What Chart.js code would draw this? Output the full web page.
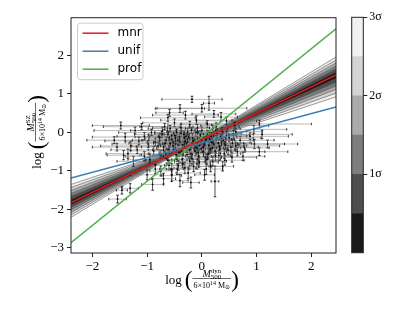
<!DOCTYPE html>
<html>
<head>
<meta charset="utf-8">
<script src="https://cdn.jsdelivr.net/npm/chart.js@4.4.0/dist/chart.umd.min.js"></script>
<style>
  body { margin: 0; background: #fff; }
  #wrap { position: relative; width: 415px; height: 311px; }
  #main { position: absolute; left: 0; top: 0; }
  #cbar { position: absolute; left: 345px; top: 0; }
</style>
</head>
<body>
<div id="wrap">
  <canvas id="main" width="345" height="311"></canvas>
  <canvas id="cbar" width="70" height="311"></canvas>
</div>
<script>
// limites et graduations des axes
const xLimits = [-2.39, 2.45];
const yLimits = [-3.13, 2.98];
const xTicks = [-2, -1, 0, 1, 2];
const yTicks = [-3, -2, -1, 0, 1, 2];

// relations ajustées (pente, ordonnée à l'origine)
const fitNames = ['mnr', 'unif', 'prof'];
const fitColors = ['#e41a1c', '#377eb8', '#4daf4a'];
const fitSlopes = [0.685, 0.381, 1.147];
const fitIntercepts = [-0.183, -0.27, -0.12];

// éventail des tirages (niveaux 0.5σ ... 3σ)
const fanPivot = [-0.2, -0.32];
const fanSlopeLow = [0.649, 0.613, 0.577, 0.542, 0.506, 0.470];
const fanSlopeHigh = [0.714, 0.743, 0.773, 0.802, 0.831, 0.860];
const sigmaColors = ['#1a1a1a', '#4e4e4e', '#7d7d7d', '#ababab', '#d4d4d4', '#f1f1f1'];
const sigmaTicks = [1, 2, 3];
const sigmaStep = 0.5;

// amas : log M_dyn, log M_SZ et leurs erreurs
const logMdyn = [
  -0.62,-0.55,-0.48,-0.41,-0.36,-0.30,-0.26,-0.21,-0.17,-0.12,
  -0.08,-0.03,0.02,0.07,0.12,0.17,0.22,0.28,0.33,0.39,
  0.45,-0.70,-0.77,-0.66,-0.58,-0.45,-0.38,-0.33,-0.27,-0.19,
  -0.14,-0.06,0.00,0.05,0.10,0.15,0.20,0.26,0.31,0.37,
  0.43,0.50,0.56,0.62,-0.52,-0.44,-0.35,-0.24,-0.10,0.03,
  0.18,0.34,0.48,-0.85,-0.92,-0.88,-0.98,-1.05,-0.72,-1.15,
  -1.22,-1.30,-1.40,-1.48,-1.10,-1.35,-1.55,-1.60,-1.05,-1.18,
  -1.25,-0.95,-1.43,-0.18,0.13,0.00,-0.59,-0.40,-0.62,-0.30,
  0.22,0.45,-0.10,0.10,-0.50,0.60,0.35,-0.22,1.05,0.95,
  1.10,0.70,0.78,0.88,0.96,1.05,0.65,0.55,0.75,1.20,
  0.42,0.62,-0.60,-0.45,-0.35,-0.25,-0.15,-0.05,0.08,0.20,
  -0.75,-0.55,-0.40,-0.70,-0.85,-1.00,-0.90,0.24,-1.31,-1.54,
  -1.46,0.38,0.05,-0.20,-0.62,-0.58,-0.50,-0.42,-0.32,-0.28,
  -0.16,-0.11,-0.04,0.09,0.13,0.24,0.30,0.41,0.53,-0.65,
  -0.75,-0.80,-0.68,-0.36,-0.20,0.00,-0.46,0.26,-0.08,0.58,
  -0.52,-0.47,-0.40,-0.34,-0.29,-0.23,-0.18,-0.13,-0.07,-0.01,
  0.04,0.09,0.14,0.19,0.25,0.32,0.36,-0.60,-0.67,-0.73,
  -0.55,-0.43,-0.31,-0.22,-0.09,0.06,0.16,-0.48,-0.38,-0.26
];
const logMsz = [
  -0.05,-0.18,-0.30,-0.12,-0.42,-0.22,0.02,-0.35,-0.15,-0.48,
  -0.27,-0.06,-0.38,-0.19,-0.55,-0.10,-0.31,-0.02,-0.44,-0.21,
  -0.08,-0.38,-0.12,-0.55,0.10,-0.62,0.12,-0.05,-0.58,0.06,
  -0.30,-0.62,0.05,-0.25,-0.02,-0.42,0.10,-0.18,-0.60,0.03,
  -0.34,-0.14,-0.28,0.02,-0.45,-0.20,-0.32,-0.12,-0.40,-0.50,
  -0.26,-0.12,-0.46,-0.25,0.00,-0.48,-0.30,-0.10,0.05,-0.22,
  0.05,-0.35,-0.12,0.18,0.15,-0.55,-0.38,-0.20,-0.62,-0.45,
  -0.75,-0.70,-0.59,0.86,0.76,0.63,0.51,0.62,0.38,0.45,
  0.48,0.30,0.32,0.22,0.25,0.18,0.40,0.20,0.22,0.08,
  -0.05,-0.20,-0.40,-0.10,-0.30,-0.50,-0.50,-0.65,-0.62,-0.30,
  -0.72,-0.35,-0.85,-0.95,-0.80,-1.05,-0.88,-0.78,-0.95,-0.75,
  -1.00,-1.12,-1.25,-1.20,-0.95,-1.10,-1.35,-1.27,-1.45,-1.73,
  -1.50,-0.88,-1.10,-1.30,-0.72,-0.28,-0.08,-0.52,-0.15,-0.40,
  -0.22,0.00,-0.33,-0.12,-0.33,-0.48,-0.28,-0.55,-0.38,-0.20,
  -0.58,-0.35,0.15,-0.70,-0.55,-0.20,0.00,0.15,0.12,-0.05,
  -0.35,-0.58,-0.25,-0.50,-0.10,-0.45,-0.68,-0.30,-0.52,-0.42,
  -0.30,-0.70,-0.18,-0.40,-0.62,-0.36,-0.15,-0.45,-0.28,-0.05,
  -0.95,-0.85,-0.92,-0.75,-0.82,-0.65,-0.88,-0.15,-0.02,-0.25
];
const errMdyn = [
  0.35,0.42,0.30,0.55,0.28,0.47,0.38,0.33,0.60,0.25,
  0.44,0.52,0.31,0.48,0.22,0.65,0.40,0.36,0.27,0.55,
  0.42,0.50,0.45,0.32,0.40,0.26,0.52,0.36,0.30,0.44,
  0.58,0.24,0.46,0.37,0.62,0.29,0.50,0.33,0.21,0.45,
  0.39,0.58,0.35,0.48,0.38,0.64,0.41,0.35,0.50,0.42,
  0.70,0.30,0.32,0.55,0.60,0.42,0.66,0.50,0.58,0.62,
  0.75,0.55,0.60,0.52,0.70,0.40,0.45,0.50,0.35,0.48,
  0.30,0.40,0.30,0.55,0.10,0.82,0.25,0.45,0.50,0.60,
  0.40,0.55,0.65,0.48,0.58,0.62,0.30,0.40,0.95,0.60,
  0.55,0.62,0.45,0.70,0.55,0.52,0.50,0.45,0.40,0.55,
  0.35,0.80,0.25,0.20,0.30,0.22,0.28,0.35,0.30,0.25,
  0.20,0.18,0.15,0.22,0.28,0.30,0.20,0.07,0.15,0.16,
  0.10,0.20,0.18,0.15,0.40,0.30,0.48,0.36,0.28,0.55,
  0.32,0.50,0.40,0.34,0.55,0.38,0.46,0.30,0.50,0.62,
  0.35,0.48,0.45,0.28,0.35,0.60,0.40,0.42,0.55,0.36,
  0.45,0.30,0.60,0.35,0.50,0.40,0.28,0.55,0.33,0.48,
  0.62,0.25,0.40,0.52,0.30,0.44,0.58,0.38,0.66,0.50,
  0.22,0.25,0.20,0.28,0.24,0.30,0.22,0.56,0.48,0.62
];
const errMsz = [
  0.08,0.10,0.09,0.11,0.12,0.08,0.09,0.10,0.12,0.13,
  0.09,0.10,0.11,0.08,0.14,0.10,0.09,0.12,0.10,0.09,
  0.11,0.10,0.09,0.12,0.08,0.13,0.10,0.09,0.14,0.08,
  0.10,0.15,0.09,0.10,0.08,0.12,0.09,0.10,0.13,0.10,
  0.11,0.09,0.10,0.09,0.11,0.09,0.10,0.08,0.12,0.13,
  0.10,0.08,0.12,0.10,0.08,0.11,0.09,0.10,0.09,0.10,
  0.09,0.12,0.10,0.09,0.08,0.12,0.10,0.09,0.12,0.10,
  0.13,0.12,0.12,0.08,0.18,0.10,0.09,0.10,0.09,0.10,
  0.09,0.10,0.11,0.09,0.10,0.09,0.12,0.09,0.10,0.10,
  0.11,0.10,0.11,0.09,0.12,0.10,0.11,0.12,0.11,0.10,
  0.13,0.10,0.12,0.14,0.12,0.15,0.13,0.12,0.14,0.12,
  0.13,0.15,0.16,0.14,0.12,0.13,0.15,0.40,0.12,0.10,
  0.10,0.12,0.14,0.14,0.11,0.10,0.09,0.11,0.10,0.12,
  0.09,0.10,0.11,0.09,0.10,0.12,0.10,0.12,0.10,0.09,
  0.12,0.10,0.08,0.12,0.12,0.10,0.09,0.10,0.09,0.10,
  0.10,0.12,0.09,0.11,0.08,0.12,0.13,0.10,0.11,0.10,
  0.09,0.14,0.08,0.11,0.12,0.10,0.09,0.11,0.09,0.08,
  0.14,0.13,0.15,0.12,0.13,0.12,0.14,0.09,0.08,0.10
];

const serif = "'Liberation Serif', 'DejaVu Serif', serif";
const sans = "'DejaVu Sans', 'Liberation Sans', sans-serif";
const minus = v => (v < 0 ? '\u2212' : '') + Math.abs(v);

// --------------------FONCTIONS------------------------------//

// largeur d'une suite de morceaux de texte (indices / exposants)
function runsWidth(ctx, runs) {
    let w = 0;
    runs.forEach(r => {
        if (r.sup !== undefined) {
            ctx.font = r.size + 'px ' + serif;
            w += Math.max(ctx.measureText(r.sup).width, ctx.measureText(r.sub).width);
        } else {
            ctx.font = (r.it ? 'italic ' : '') + r.size + 'px ' + serif;
            w += ctx.measureText(r.t).width;
        }
    });
    return w;
}

function drawRuns(ctx, runs, x, y) {
    runs.forEach(r => {
        if (r.sup !== undefined) {
            ctx.font = r.size + 'px ' + serif;
            ctx.fillText(r.sup, x, y - 4);
            ctx.fillText(r.sub, x, y + 2.5);
            x += Math.max(ctx.measureText(r.sup).width, ctx.measureText(r.sub).width);
        } else {
            ctx.font = (r.it ? 'italic ' : '') + r.size + 'px ' + serif;
            ctx.fillText(r.t, x, y + (r.dy || 0));
            x += ctx.measureText(r.t).width;
        }
    });
}

// titre d'axe du type log( num / den )
function drawAxisTitle(ctx, cx, cy, rot, num, den) {
    ctx.save();
    ctx.translate(cx, cy);
    ctx.rotate(rot);
    ctx.fillStyle = '#000';
    ctx.textAlign = 'left';
    ctx.textBaseline = 'alphabetic';
    ctx.font = '13px ' + serif;
    const wLog = ctx.measureText('log').width;
    ctx.font = '23px ' + serif;
    const wPar = ctx.measureText('(').width;
    const wNum = runsWidth(ctx, num);
    const wDen = runsWidth(ctx, den);
    const wFrac = Math.max(wNum, wDen) + 2;
    const total = wLog + 3 + wPar + wFrac + wPar;
    let x = -total / 2;
    ctx.font = '13px ' + serif;
    ctx.fillText('log', x, 4);
    x += wLog + 3;
    ctx.font = '23px ' + serif;
    ctx.fillText('(', x, 7);
    x += wPar;
    drawRuns(ctx, num, x + (wFrac - wNum) / 2, -3.5);
    ctx.strokeStyle = '#000';
    ctx.lineWidth = 0.6;
    ctx.beginPath();
    ctx.moveTo(x, -1.5);
    ctx.lineTo(x + wFrac, -1.5);
    ctx.stroke();
    drawRuns(ctx, den, x + (wFrac - wDen) / 2, 7.5);
    x += wFrac;
    ctx.font = '23px ' + serif;
    ctx.fillText(')', x, 7);
    ctx.restore();
}

// cadre autour de la zone de tracé
const framePlugin = {
    id: 'frame',
    afterDraw(chart) {
        const a = chart.chartArea, ctx = chart.ctx;
        ctx.save();
        ctx.strokeStyle = '#222';
        ctx.lineWidth = 1;
        ctx.strokeRect(a.left, a.top, a.right - a.left, a.bottom - a.top);
        ctx.restore();
    }
};

// légende et titres du graphique principal
const decorPlugin = {
    id: 'decor',
    afterDraw(chart) {
        const ctx = chart.ctx, a = chart.chartArea;
        const bx = a.left + 6.5, by = a.top + 5.5, bw = 65.5, bh = 56.5;
        ctx.save();
        ctx.fillStyle = 'rgba(255,255,255,0.85)';
        ctx.strokeStyle = '#cccccc';
        ctx.lineWidth = 1;
        ctx.beginPath();
        ctx.roundRect(bx, by, bw, bh, 3);
        ctx.fill();
        ctx.stroke();
        ctx.font = '12px ' + sans;
        ctx.textBaseline = 'middle';
        fitNames.forEach((name, i) => {
            const ly = by + 10 + i * 18;
            ctx.strokeStyle = fitColors[i];
            ctx.lineWidth = 1.5;
            ctx.beginPath();
            ctx.moveTo(bx + 5, ly);
            ctx.lineTo(bx + 31, ly);
            ctx.stroke();
            ctx.fillStyle = '#000';
            ctx.fillText(name, bx + 40, ly);
        });
        ctx.restore();

        drawAxisTitle(ctx, 202, 280, 0,
            [{t: 'M', size: 10, it: true}, {sup: 'dyn', sub: '500', size: 7}],
            [{t: '6×10', size: 8}, {t: '14', size: 6, dy: -3}, {t: ' M', size: 8}, {t: '⊙', size: 6, dy: 1.5}]);
        drawAxisTitle(ctx, 37, 132, -Math.PI / 2,
            [{t: 'M', size: 10, it: true}, {sup: 'SZ', sub: '500', size: 7}],
            [{t: '6×10', size: 8}, {t: '14', size: 6, dy: -3}, {t: ' M', size: 8}, {t: '⊙', size: 6, dy: 1.5}]);
    }
};

// --------------------FONCTIONS (fin)------------------------------//

const datasets = [];

// droites ajustées (au-dessus de tout)
fitNames.forEach((name, i) => {
    datasets.push({
        label: name,
        data: xLimits.map(x => ({x: x, y: fitIntercepts[i] + fitSlopes[i] * x})),
        showLine: true,
        borderColor: fitColors[i],
        borderWidth: 1.5,
        pointRadius: 0,
        order: 0
    });
});

// points des amas
datasets.push({
    data: logMdyn.map((x, i) => ({x: x, y: logMsz[i]})),
    pointStyle: 'rect',
    pointRadius: 1.1,
    backgroundColor: '#000',
    borderColor: '#000',
    borderWidth: 0,
    order: 1
});

// barres d'erreur, coupées par des valeurs nulles
const xBars = [];
const yBars = [];
logMdyn.forEach((x, i) => {
    const y = logMsz[i];
    xBars.push({x: x - errMdyn[i], y: y}, {x: x + errMdyn[i], y: y}, {x: x, y: null});
    yBars.push({x: x, y: y - errMsz[i]}, {x: x, y: y + errMsz[i]}, {x: x, y: null});
});
datasets.push({
    data: xBars, showLine: true,
    borderColor: 'rgba(110,110,110,0.6)', borderWidth: 0.8,
    pointStyle: 'line', rotation: 90, pointRadius: 1.3,
    pointBorderColor: '#111', pointBorderWidth: 0.8,
    order: 2
});
datasets.push({
    data: yBars, showLine: true,
    borderColor: '#222', borderWidth: 0.8,
    pointStyle: 'line', rotation: 0, pointRadius: 1.3,
    pointBorderColor: '#000', pointBorderWidth: 0.8,
    order: 2
});

// éventail gris : du niveau externe au niveau interne
function fanLine(slope) {
    return [
        {x: xLimits[0], y: fanPivot[1] + slope * (xLimits[0] - fanPivot[0])},
        {x: fanPivot[0], y: fanPivot[1]},
        {x: xLimits[1], y: fanPivot[1] + slope * (xLimits[1] - fanPivot[0])}
    ];
}
for (let k = fanSlopeLow.length - 1; k >= 0; k--) {
    datasets.push({
        data: fanLine(fanSlopeLow[k]), showLine: true,
        borderColor: '#555', borderWidth: 0.6, pointRadius: 0,
        order: 10 + k
    });
    datasets.push({
        data: fanLine(fanSlopeHigh[k]), showLine: true,
        borderColor: '#555', borderWidth: 0.6, pointRadius: 0,
        fill: '-1', backgroundColor: sigmaColors[k],
        order: 10 + k
    });
}

new Chart(document.getElementById('main'), {
    type: 'scatter',
    data: {datasets: datasets},
    options: {
        responsive: false,
        animation: false,
        events: [],
        layout: {padding: {left: 0, right: 9, top: 17.7, bottom: 0}},
        plugins: {legend: {display: false}, tooltip: {enabled: false}},
        scales: {
            x: {
                type: 'linear', min: xLimits[0], max: xLimits[1],
                afterBuildTicks: s => { s.ticks = xTicks.map(v => ({value: v})); },
                afterFit: s => { s.height = 58; },
                ticks: {callback: minus, color: '#000', font: {family: serif, size: 13}, padding: 2, maxRotation: 0, autoSkip: false},
                grid: {drawOnChartArea: false, tickLength: 4, color: '#222'},
                border: {display: false}
            },
            y: {
                type: 'linear', min: yLimits[0], max: yLimits[1],
                afterBuildTicks: s => { s.ticks = yTicks.map(v => ({value: v})); },
                afterFit: s => { s.width = 71; },
                ticks: {callback: minus, color: '#000', font: {family: serif, size: 13}, padding: 3, autoSkip: false},
                grid: {drawOnChartArea: false, tickLength: 4, color: '#222'},
                border: {display: false}
            }
        }
    },
    plugins: [framePlugin, decorPlugin]
});

// barre de couleurs des niveaux de sigma
new Chart(document.getElementById('cbar'), {
    type: 'bar',
    data: {
        labels: [''],
        datasets: sigmaColors.map(c => ({
            data: [sigmaStep], backgroundColor: c, borderWidth: 0,
            barPercentage: 1, categoryPercentage: 1
        }))
    },
    options: {
        responsive: false,
        animation: false,
        events: [],
        layout: {padding: {left: 6.7, right: 0, top: 17.3, bottom: 58.3}},
        plugins: {legend: {display: false}, tooltip: {enabled: false}},
        scales: {
            x: {display: false, stacked: true},
            y: {
                stacked: true, position: 'right', min: 0, max: 3,
                afterBuildTicks: s => { s.ticks = sigmaTicks.map(v => ({value: v})); },
                afterFit: s => { s.width = 51.7; },
                ticks: {callback: v => v + 'σ', color: '#000', font: {family: serif, size: 12}, padding: 2},
                grid: {drawOnChartArea: false, tickLength: 4, color: '#222'},
                border: {display: false}
            }
        }
    },
    plugins: [framePlugin]
});
</script>
</body>
</html>
